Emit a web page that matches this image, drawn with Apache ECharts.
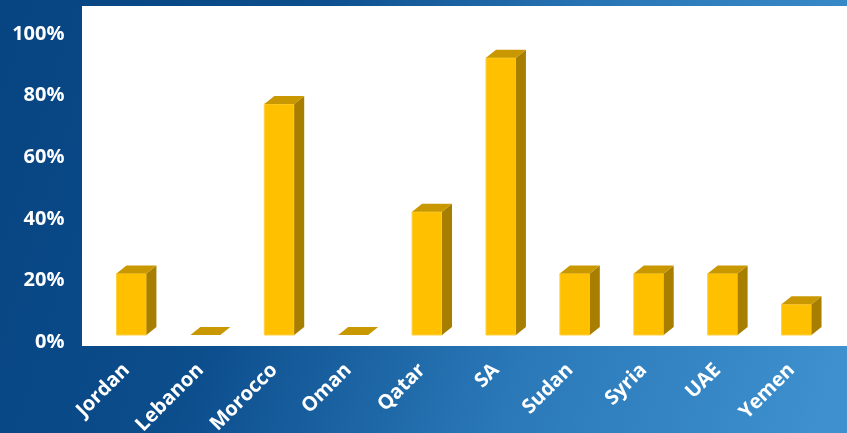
<!DOCTYPE html>
<html>
<head>
<meta charset="utf-8">
<script src="https://cdn.jsdelivr.net/npm/echarts@6/dist/echarts.min.js"></script>
<style>
html,body{margin:0;padding:0;width:847px;height:433px;overflow:hidden;}
#chart{width:847px;height:433px;}
</style>
</head>
<body>
<div id="chart"></div>
<script>
const categories = ['Jordan','Lebanon','Morocco','Oman','Qatar','SA','Sudan','Syria','UAE','Yemen'];
const values = [20, 0, 75, 0, 40, 90, 20, 20, 20, 10];
const yTicks = [0, 20, 40, 60, 80, 100];

const chart = echarts.init(document.getElementById('chart'), null, {renderer: 'canvas'});

const FONT = '"Open Sans", "Liberation Sans", sans-serif';

function renderBar(params, api) {
  const idx = api.value(0);
  const v = api.value(1);
  const top = api.coord([idx, v]);
  const base = api.coord([idx, 0]);
  const band = api.size([1, 0])[0];
  const w = band * 0.405;
  const dx = 10, dy = 8, lift = 7;
  const l = top[0] - w / 2, r = top[0] + w / 2;
  const t = top[1] - lift, b = base[1] - lift;
  const children = [];
  if (b - t > 0.5) {
    children.push({
      type: 'rect',
      shape: {x: l, y: t, width: w, height: b - t},
      style: {fill: '#FFC000', stroke: '#FFD040', lineWidth: 1}
    });
    children.push({
      type: 'polygon',
      shape: {points: [[r, t], [r + dx, t - dy], [r + dx, b - dy], [r, b]]},
      style: {fill: '#A87E00'}
    });
  }
  children.push({
    type: 'polygon',
    shape: {points: [[l, t], [l + dx, t - dy], [r + dx, t - dy], [r, t]]},
    style: {fill: '#C99800'}
  });
  return {type: 'group', children: children};
}

const option = {
  backgroundColor: {
    type: 'linear', x: 0, y: 0.2, x2: 1, y2: 0.8,
    colorStops: [
      {offset: 0, color: '#074482'},
      {offset: 0.3, color: '#0c4d8c'},
      {offset: 0.65, color: '#2a78b8'},
      {offset: 1, color: '#3e90ce'}
    ]
  },
  animation: false,
  graphic: [{
    type: 'rect', z: -1,
    shape: {x: 82, y: 6, width: 765, height: 340},
    style: {fill: '#ffffff'}
  }],
  grid: {left: 94.5, right: 13.5, top: 34, bottom: 91, containLabel: false, outerBoundsMode: 'none'},
  xAxis: {
    type: 'category',
    data: categories,
    axisLine: {show: false},
    axisTick: {show: false},
    axisLabel: {
      rotate: 45, margin: 20, color: '#ffffff', padding: [0, 7, 0, 0],
      fontFamily: FONT, fontWeight: 'bold', fontSize: 20, interval: 0
    }
  },
  yAxis: {
    type: 'value', min: 0, max: 100, interval: 20,
    splitLine: {show: false},
    axisLine: {show: false},
    axisTick: {show: false},
    axisLabel: {
      margin: 30, color: '#ffffff', fontFamily: FONT, fontWeight: 'bold', fontSize: 20,
      formatter: function (v) { return yTicks.indexOf(v) >= 0 ? v + '%' : ''; }
    }
  },
  series: [{
    type: 'custom',
    renderItem: renderBar,
    data: values.map((v, i) => [i, v]),
    encode: {x: 0, y: 1}
  }]
};
chart.setOption(option);
</script>
</body>
</html>
